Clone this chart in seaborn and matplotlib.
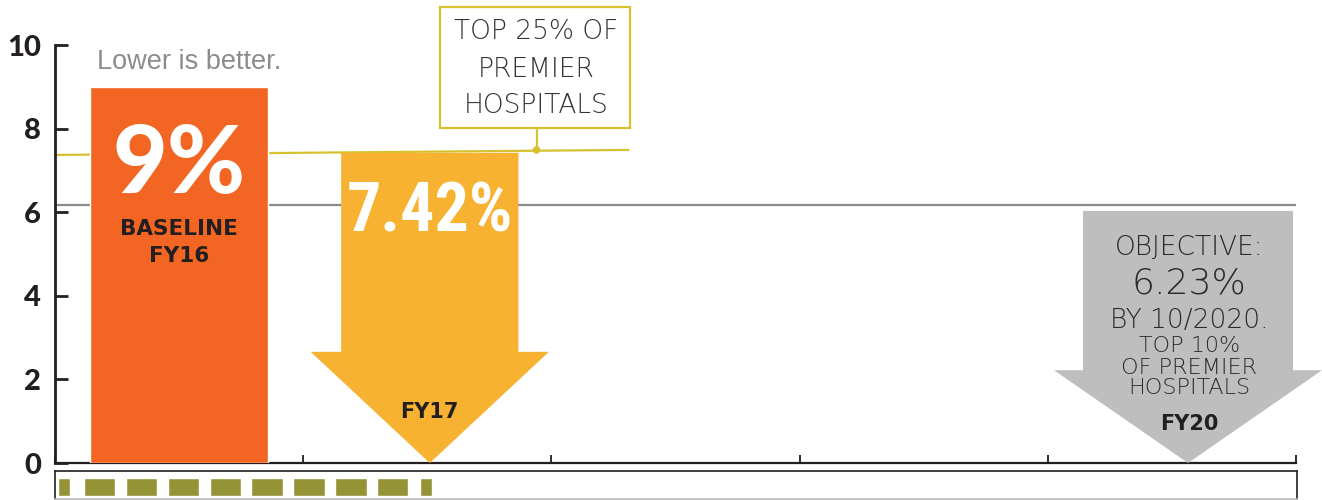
import matplotlib
matplotlib.use("Agg")
import matplotlib.pyplot as plt
from matplotlib import font_manager
import seaborn as sns
import numpy as np
from matplotlib.patches import Polygon, Rectangle

# ---- data ----
categories = ["FY16", "FY17", "FY20"]
bar_centers = [0.5, 1.51, 4.565]
values = [9.0, 7.42, 6.03]
top25_line_x = [0.0, 2.31]
top25_line_y = [7.37, 7.49]
objective_line_y = 6.17
y_ticks = [0, 2, 4, 6, 8, 10]
x_ticks = [0, 1, 2, 3, 4, 5]
progress_starts = [0.012, 0.117, 0.286, 0.455, 0.624, 0.790, 0.959, 1.128, 1.297, 1.471]
progress_ends = [0.060, 0.242, 0.411, 0.580, 0.749, 0.919, 1.088, 1.257, 1.422, 1.519]

ORANGE = "#F26522"
GOLD = "#F7B231"
GREY_ARROW = "#BEBEBE"
YELLOW = "#D6C12F"
DARK = "#231F20"
OLIVE = "#949437"

sns.set_theme(style="white")
plt.rcParams["font.family"] = ["Lato", "DejaVu Sans"]

# pick a condensed face for the big "7.42%" if one is installed
fonts = font_manager.fontManager.ttflist
names = {f.name for f in fonts}
cond_family, cond_stretch, cond_size = None, "normal", 40
for cand in ["Liberation Sans Narrow", "Roboto Condensed", "Open Sans Condensed", "Noto Sans Condensed"]:
    if cand in names:
        cond_family, cond_size = cand, 49
        break
if cond_family is None:
    for f in fonts:
        if f.name in ("Noto Sans", "Open Sans", "Roboto") and f.stretch in ("condensed", "extra-condensed", "semi-condensed", 300, 200):
            cond_family, cond_stretch, cond_size = f.name, f.stretch, 49
            break
if cond_family is None:
    cond_family = "Lato"

fig = plt.figure(figsize=(13.22, 5), dpi=100)
ax = fig.add_axes([55 / 1322, 37 / 500, (1296 - 55) / 1322, 418 / 500])
ax.set_xlim(0, 5)
ax.set_ylim(0, 10)

# reference lines
ax.plot([0, 5], [objective_line_y, objective_line_y], color="#8A8A8A", lw=1.6, zorder=1)
sns.lineplot(x=top25_line_x, y=top25_line_y, color=YELLOW, lw=1.6, ax=ax, zorder=2)

# FY16 bar
ax.bar([bar_centers[0]], [values[0]], width=0.72, color=ORANGE, zorder=3)

def down_arrow(cx, top, shaft_hw, head_hw, head_y, color):
    pts = [(cx - shaft_hw, top), (cx + shaft_hw, top), (cx + shaft_hw, head_y),
           (cx + head_hw, head_y), (cx, 0), (cx - head_hw, head_y), (cx - shaft_hw, head_y)]
    ax.add_patch(Polygon(pts, closed=True, facecolor=color, edgecolor="none", zorder=3, clip_on=False))

down_arrow(bar_centers[1], values[1], 0.357, 0.48, 2.66, GOLD)
down_arrow(bar_centers[2], values[2], 0.423, 0.54, 2.22, GREY_ARROW)

# callout for top 25%
ax.plot([1.94, 1.94], [7.49, 8.01], color=YELLOW, lw=1.6, clip_on=False, zorder=4)
sns.scatterplot(x=[1.94], y=[7.49], color=YELLOW, s=30, ax=ax, zorder=5, edgecolor="none")
ax.add_patch(Rectangle((1.551, 8.01), 2.317 - 1.551, 10.91 - 8.01, facecolor="white",
                       edgecolor=YELLOW, lw=1.6, clip_on=False, zorder=4))
for txt, yy in [("TOP 25% OF", 10.33), ("PREMIER", 9.42), ("HOSPITALS", 8.56)]:
    ax.text(1.94, yy, txt, ha="center", va="center", fontsize=19, color="#333333",
            fontweight="light", family=["DejaVu Sans"], zorder=6, clip_on=False)

# texts
ax.text(0.17, 9.59, "Lower is better.", ha="left", va="center", fontsize=19.5, color="#8C8C8C",
        family=["Liberation Sans", "DejaVu Sans"], zorder=6)
ax.text(0.5, 7.1, "9%", ha="center", va="center", fontsize=68, color="white", fontweight="black", zorder=6)
ax.text(0.5, 5.6, "BASELINE", ha="center", va="center", fontsize=15.5, color=DARK, fontweight="bold",
        family=["DejaVu Sans"], zorder=6)
ax.text(0.5, 4.95, "FY16", ha="center", va="center", fontsize=15.5, color=DARK, fontweight="bold",
        family=["DejaVu Sans"], zorder=6)
ax.text(1.51, 5.98, "7.42%", ha="center", va="center", fontsize=cond_size, color="white", fontweight="bold",
        family=[cond_family, "DejaVu Sans"], fontstretch=cond_stretch, zorder=6)
ax.text(1.51, 1.22, "FY17", ha="center", va="center", fontsize=15, color=DARK, fontweight="bold",
        family=["DejaVu Sans"], zorder=6)

obj = [("OBJECTIVE:", 5.17, 19), ("6.23%", 4.3, 26), ("BY 10/2020.", 3.4, 19),
       ("TOP 10%", 2.81, 16), ("OF PREMIER", 2.28, 16), ("HOSPITALS", 1.8, 16)]
for txt, yy, fs in obj:
    ax.text(4.57, yy, txt, ha="center", va="center", fontsize=fs, color="#2A2A2A",
            fontweight="light", family=["DejaVu Sans"], zorder=6)
ax.text(4.57, 0.93, "FY20", ha="center", va="center", fontsize=15, color=DARK, fontweight="bold",
        family=["DejaVu Sans"], zorder=6)

# axes styling
for s in ["top", "right"]:
    ax.spines[s].set_visible(False)
ax.spines["left"].set_color(DARK)
ax.spines["left"].set_linewidth(2.0)
ax.spines["bottom"].set_color(DARK)
ax.spines["bottom"].set_linewidth(1.6)
ax.set_yticks(y_ticks)
ax.set_xticks(x_ticks)
ax.set_xticklabels([])
ax.tick_params(axis="y", direction="in", length=9, width=2.0, color=DARK, left=True,
               labelsize=21, labelcolor=DARK, pad=10)
ax.tick_params(axis="x", direction="in", length=6, width=1.3, color=DARK, bottom=True)
for lab in ax.get_yticklabels():
    lab.set_fontweight("black")
ax.set_xlabel("")
ax.set_ylabel("")
ax.grid(False)

# progress strip
ax2 = fig.add_axes([55 / 1322, 1 / 500, (1297 - 55) / 1322, 28 / 500])
ax2.set_xlim(0, 5)
ax2.set_ylim(0, 1)
ax2.bar(progress_starts, 0.64, bottom=0.107,
        width=np.array(progress_ends) - np.array(progress_starts), align="edge", color=OLIVE)
ax2.set_xticks([])
ax2.set_yticks([])
for s in ["top", "left", "right"]:
    ax2.spines[s].set_color(DARK)
    ax2.spines[s].set_linewidth(1.2)
ax2.spines["bottom"].set_color("#BBBBBB")
ax2.spines["bottom"].set_linewidth(1.2)

fig.savefig("out.png", dpi=100)
